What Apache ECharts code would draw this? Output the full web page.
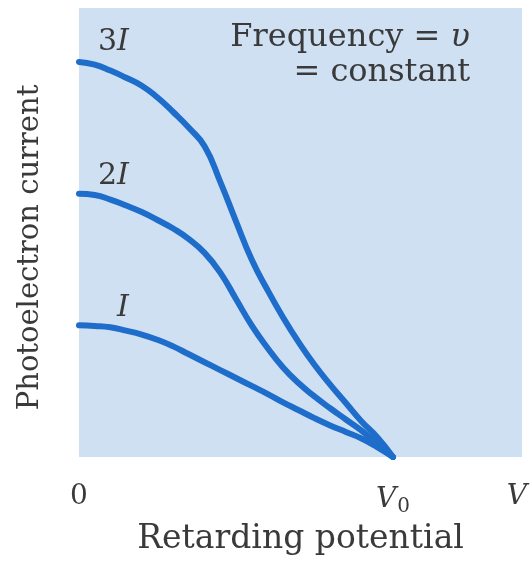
<!DOCTYPE html>
<html lang="en">
<head>
  <meta charset="UTF-8">
  <title>Photoelectron current vs retarding potential</title>
  <script src="https://cdn.jsdelivr.net/npm/echarts@6/dist/echarts.min.js"></script>
  <style>
    html, body { margin: 0; padding: 0; background: #fff; }
  </style>
</head>
<body>
    <div id="main" style="width: 531px;height:561px;"></div>
    <script type="text/javascript">
         // retarding potential in units of V0, current in units of I
         var potential = [0, 0.05, 0.1, 0.15, 0.2, 0.25, 0.3, 0.35, 0.4, 0.45, 0.5,
                          0.55, 0.6, 0.65, 0.7, 0.75, 0.8, 0.85, 0.9, 0.95, 1.0];
         var cur3 = [3.0, 2.98, 2.935, 2.88, 2.82, 2.73, 2.62, 2.50, 2.36, 2.09, 1.79,
                     1.50, 1.27, 1.06, 0.87, 0.70, 0.55, 0.41, 0.27, 0.15, 0];
         var cur2 = [2.0, 1.99, 1.955, 1.91, 1.86, 1.80, 1.735, 1.655, 1.55, 1.40, 1.20,
                     1.00, 0.83, 0.68, 0.56, 0.46, 0.37, 0.285, 0.20, 0.10, 0];
         var cur1 = [1.0, 0.995, 0.985, 0.96, 0.93, 0.89, 0.84, 0.78, 0.72, 0.66, 0.60,
                     0.54, 0.48, 0.415, 0.355, 0.295, 0.24, 0.19, 0.14, 0.075, 0];
         var tickVals = [0, 1, 1.395];
         var tickText = ['0', '{i|V}{s|0}', '{i|V}'];

         function pairs(xs, ys) {
             var out = [];
             for (var i = 0; i < xs.length; i++) out.push([xs[i], ys[i]]);
             return out;
         }

         var blue = '#1e6dca';
         var ink = '#3a3a3a';
         var serif = '"DejaVu Serif", "Liberation Serif", serif';

         var myChart = echarts.init(document.getElementById('main'));

         function curve(name, ys) {
             return {
                 name: name,
                 type: 'line',
                 data: pairs(potential, ys),
                 smooth: 0.5,
                 symbol: 'none',
                 lineStyle: { color: blue, width: 6, cap: 'round', join: 'round' },
                 z: 3
             };
         }

         var option = {
             animation: false,
             grid: {
                 left: 79, right: 9, top: 8, bottom: 101,
                 show: true, backgroundColor: '#cfe0f3', borderWidth: 0
             },
             xAxis: {
                 type: 'value', min: 0, max: 1.411,
                 axisLine: { show: false }, axisTick: { show: false }, splitLine: { show: false },
                 axisLabel: {
                     customValues: tickVals,
                     margin: 26,
                     color: ink, fontFamily: serif, fontSize: 28,
                     formatter: function (v) {
                         for (var i = 0; i < tickVals.length; i++) if (Math.abs(tickVals[i] - v) < 1e-6) return tickText[i];
                         return '';
                     },
                     rich: {
                         i: { fontStyle: 'italic', fontFamily: serif, fontSize: 28, color: ink },
                         s: { fontFamily: serif, fontSize: 20, color: ink, verticalAlign: 'bottom', padding: [14, 0, 0, 1] }
                     }
                 },
                 name: 'Retarding potential',
                 nameLocation: 'middle',
                 nameGap: 66,
                 nameTextStyle: { color: ink, fontFamily: serif, fontSize: 33 }
             },
             yAxis: {
                 type: 'value', min: 0, max: 3.41,
                 axisLine: { show: false }, axisTick: { show: false }, splitLine: { show: false },
                 axisLabel: { show: false },
                 name: 'Photoelectron current',
                 nameLocation: 'middle',
                 nameRotate: 90,
                 nameGap: 34,
                 nameTextStyle: { color: ink, fontFamily: serif, fontSize: 29, padding: [0, 30, 0, 0] }
             },
             graphic: [
                 { type: 'text', left: 98, top: 27, style: { text: '{n|3}{i|I}', rich: { n: { fontFamily: serif, fontSize: 30, fill: ink }, i: { fontFamily: serif, fontSize: 30, fontStyle: 'italic', fill: ink } } } },
                 { type: 'text', left: 98, top: 161, style: { text: '{n|2}{i|I}', rich: { n: { fontFamily: serif, fontSize: 30, fill: ink }, i: { fontFamily: serif, fontSize: 30, fontStyle: 'italic', fill: ink } } } },
                 { type: 'text', left: 117, top: 293, style: { text: '{i|I}', rich: { i: { fontFamily: serif, fontSize: 30, fontStyle: 'italic', fill: ink } } } },
                 { type: 'text', right: 61, top: 22, style: { text: '{t|Frequency = }{i|υ}', rich: { t: { fontFamily: serif, fontSize: 32, fill: ink }, i: { fontFamily: serif, fontSize: 32, fontStyle: 'italic', fill: ink } } } },
                 { type: 'text', right: 61, top: 57, style: { text: '= constant', font: '32px ' + serif, fill: ink } }
             ],
             series: [
                 curve('3I', cur3),
                 curve('2I', cur2),
                 curve('I', cur1)
             ]
         };

         myChart.setOption(option);
    </script>
</body>
</html>
